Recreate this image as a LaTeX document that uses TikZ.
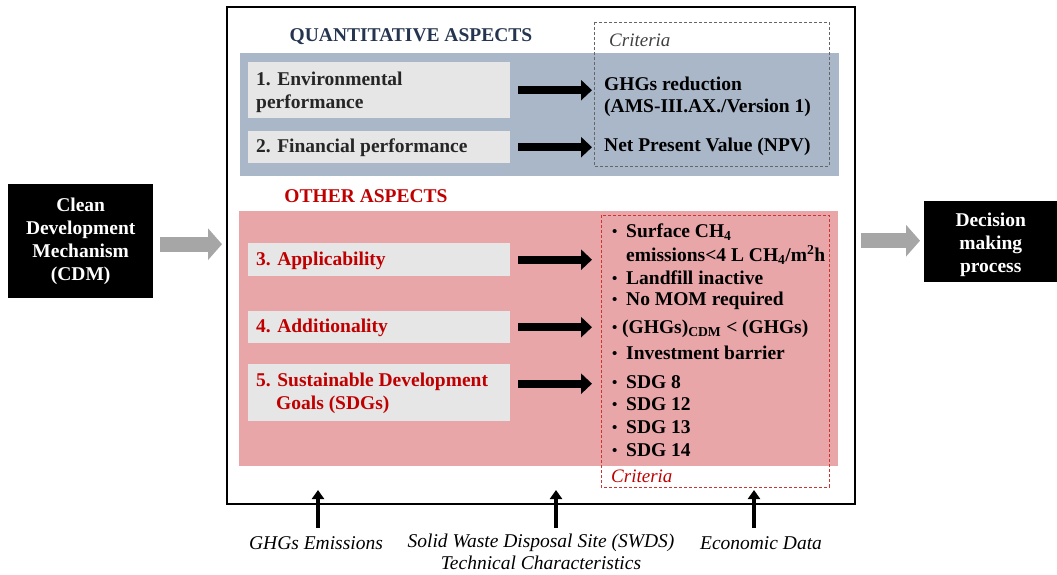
\documentclass[tikz,border=0pt]{standalone}
\usepackage{fontspec}
\setmainfont{Liberation Serif}
\usetikzlibrary{arrows.meta,calc}
\definecolor{bandblue}{HTML}{AAB7C9}
\definecolor{bandpink}{HTML}{E8A6A8}
\definecolor{boxgray}{HTML}{E6E6E6}
\definecolor{navy}{HTML}{253550}
\definecolor{darkred}{HTML}{C00000}
\definecolor{arrgray}{HTML}{A6A6A6}
\tikzset{
  aspectbox/.style={fill=boxgray, draw=none, inner sep=0pt, anchor=north west},
  aspecttext/.style={font=\fontsize{19.5}{23}\selectfont\bfseries, align=left, anchor=west, inner sep=0pt},
  crit/.style={font=\fontsize{19.5}{22}\selectfont\bfseries, anchor=west, inner sep=0pt},
  critlabel/.style={font=\fontsize{19}{22}\selectfont\itshape, anchor=west, inner sep=0pt},
  blackbox/.style={fill=black, inner sep=0pt, anchor=north west},
  boxtext/.style={text=white, font=\fontsize{19.5}{23}\selectfont\bfseries, align=center, inner sep=0pt},
  blkarrow/.style={line width=8pt, -{Triangle[length=11pt,width=20pt]}},
  grayarrow/.style={arrgray, line width=15pt, -{Triangle[length=14pt,width=31pt]}},
  uparrow/.style={line width=4.5pt, -{Triangle[length=9pt,width=12pt]}},
  inlabel/.style={font=\fontsize{19.5}{22}\selectfont\itshape, align=center, inner sep=0pt, anchor=north},
}
\newcommand{\dotmark}{\raisebox{1.2pt}{\fontsize{15}{15}\selectfont\textbullet}}
\newcommand{\bul}{\makebox[14pt][l]{\dotmark}}
\begin{document}
\begin{tikzpicture}[x=1pt,y=-1pt]
\useasboundingbox (0,0) rectangle (1057,575);

% outer frame
\draw[line width=1.2pt] (227,7) rectangle (855,504);

% bands
\fill[bandblue] (240,53) rectangle (839,176);
\fill[bandpink] (239,211) rectangle (838,466);

% section titles
\node[font=\fontsize{19.5}{23}\selectfont\bfseries, text=navy, inner sep=0pt] (qtitle) at (411,37) {QUANTITATIVE ASPECTS};
\node[font=\fontsize{19.5}{23}\selectfont\bfseries, text=darkred, inner sep=0pt] (otitle) at (366,196) {OTHER ASPECTS};

% criteria frames
\draw[gray!80!black, dashed, dash pattern=on 3pt off 2pt, line width=0.8pt] (594,22) rectangle (829,166);
\draw[darkred!80, dashed, dash pattern=on 3pt off 2pt, line width=0.8pt] (601,215) rectangle (829,487);
\coordinate (cq) at (594,0);
\coordinate (co) at (601,0);

\node[critlabel, text=black!75] (critq) at (609,40) {Criteria};
\node[critlabel, text=darkred] (crito) at (611,476) {Criteria};

% aspect boxes
\node[aspectbox, minimum width=262pt, minimum height=56pt] (b1) at (248,62) {};
\node[aspectbox, minimum width=262pt, minimum height=32pt] (b2) at (248,131) {};
\node[aspectbox, minimum width=262pt, minimum height=33pt] (b3) at (248,243) {};
\node[aspectbox, minimum width=262pt, minimum height=32pt] (b4) at (248,311) {};
\node[aspectbox, minimum width=262pt, minimum height=57pt] (b5) at (248,364) {};

\node[aspecttext, text=black!85] at ([xshift=8pt,yshift=-2pt]b1.west) {1. Environmental\\performance};
\node[aspecttext, text=black!85] at ([xshift=8pt,yshift=-1pt]b2.west) {2. Financial performance};
\node[aspecttext, text=darkred] at ([xshift=8pt,yshift=-1pt]b3.west) {3. Applicability};
\node[aspecttext, text=darkred] at ([xshift=8pt,yshift=-1pt]b4.west) {4. Additionality};
\node[aspecttext, text=darkred] at ([xshift=8pt,yshift=-1pt]b5.west) {5. Sustainable Development\\\hspace{20pt}Goals (SDGs)};

% quantitative criteria
\node[crit, align=left] (c1) at (604,97) {GHGs reduction\\(AMS-III.AX./Version 1)};
\node[crit] (c2) at (604,147) {Net Present Value (NPV)};

% other criteria
\node[crit] (s1) at (612,232) {\bul Surface CH\textsubscript{4}};
\node[crit] (s1b) at (626,255) {emissions<4 L CH\textsubscript{4}/m\textsuperscript{2}h};
\node[crit] (s2) at (612,278) {\bul Landfill inactive};
\node[crit] (s3) at (612,301) {\bul No MOM required};
\node[crit] (s4) at (612,329) {\makebox[10pt][l]{\dotmark}(GHGs)\textsubscript{CDM} < (GHGs)};
\node[crit] (s5) at (612,353) {\bul Investment barrier};
\node[crit] (s6) at (612,382) {\bul SDG 8};
\node[crit] (s7) at (612,404) {\bul SDG 12};
\node[crit] (s8) at (612,427) {\bul SDG 13};
\node[crit] (s9) at (612,450) {\bul SDG 14};

% aspect -> criteria arrows
\draw[blkarrow] ([xshift=8pt]b1.east) -- ([xshift=-2pt]b1.east -| cq);
\draw[blkarrow] ([xshift=8pt]b2.east) -- ([xshift=-2pt]b2.east -| cq);
\draw[blkarrow] ([xshift=8pt]b3.east) -- ([xshift=-9pt]b3.east -| co);
\draw[blkarrow] ([xshift=8pt]b4.east) -- ([xshift=-9pt]b4.east -| co);
\draw[blkarrow] ([xshift=8pt,yshift=9pt]b5.east) -- ([xshift=-9pt,yshift=9pt]b5.east -| co);

% CDM input and decision output
\node[blackbox, minimum width=145pt, minimum height=114pt] (cdm) at (8,184) {};
\node[boxtext] at (cdm.center) {Clean\\Development\\Mechanism\\(CDM)};
\node[blackbox, minimum width=133pt, minimum height=81pt] (dec) at (924,201) {};
\node[boxtext] at ([yshift=-3pt]dec.center) {Decision\\making\\process};
\coordinate (fl) at (222,0);
\draw[grayarrow] ([xshift=7pt,yshift=-3pt]cdm.east) -- ([yshift=-3pt]cdm.east -| fl);
\coordinate (fr) at (861,0);
\draw[grayarrow] ([yshift=1pt]dec.west -| fr) -- ([xshift=-4pt,yshift=1pt]dec.west);

% inputs from below
\node[inlabel] (in1) at (316,536) {GHGs Emissions};
\node[inlabel] (in2) at (541,534) {Solid Waste Disposal Site (SWDS)\\Technical Characteristics};
\node[inlabel] (in3) at (761,536) {Economic Data};
\coordinate (t1) at (318,490);
\coordinate (t2) at (556,490);
\coordinate (t3) at (754,490);
\draw[uparrow] ([yshift=8pt]in1.north -| t1) -- (t1);
\draw[uparrow] ([yshift=6pt]in2.north -| t2) -- (t2);
\draw[uparrow] ([yshift=8pt]in3.north -| t3) -- (t3);
\end{tikzpicture}
\end{document}
